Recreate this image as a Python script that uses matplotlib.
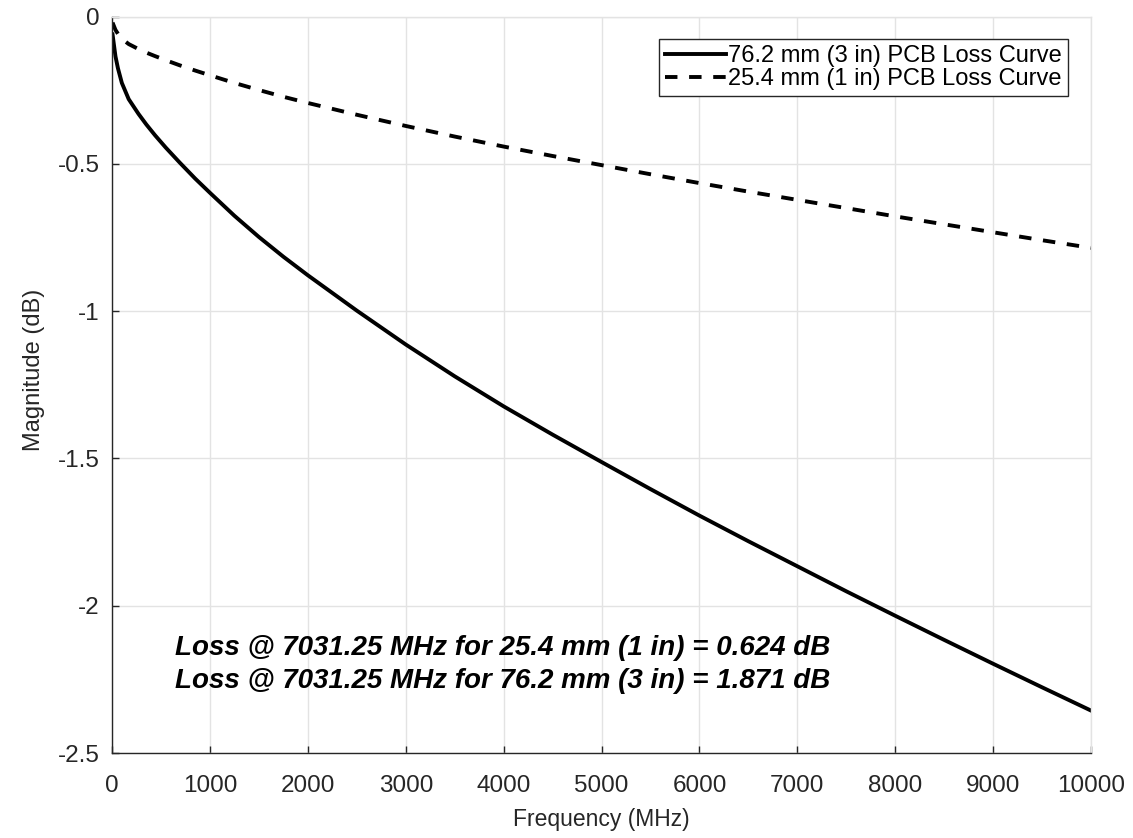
import numpy as np
import matplotlib
matplotlib.use("Agg")
import matplotlib.pyplot as plt

# values
freq_mhz = [5, 35, 60, 100, 170, 270, 350, 440, 550, 690, 850, 1000, 1250, 1500, 1750,
            2000, 2500, 3000, 3500, 4000, 4500, 5000, 5500, 6000, 6500, 7000, 7500,
            8000, 8500, 9000, 9500, 10000]
loss_3in = [-0.06, -0.135, -0.175, -0.225, -0.28, -0.33, -0.366, -0.403, -0.445, -0.495,
            -0.55, -0.598, -0.676, -0.748, -0.815, -0.878, -0.998, -1.113, -1.221,
            -1.323, -1.419, -1.512, -1.604, -1.694, -1.781, -1.866, -1.951, -2.034,
            -2.116, -2.197, -2.277, -2.356]
loss_1in = [-0.02, -0.045, -0.058, -0.075, -0.093, -0.11, -0.122, -0.134, -0.148,
            -0.165, -0.183, -0.199, -0.225, -0.249, -0.272, -0.293, -0.333, -0.371,
            -0.407, -0.441, -0.473, -0.504, -0.535, -0.565, -0.594, -0.622, -0.650,
            -0.678, -0.705, -0.732, -0.759, -0.785]
labels = ["76.2 mm (3 in) PCB Loss Curve", "25.4 mm (1 in) PCB Loss Curve"]
notes = ["Loss @ 7031.25 MHz for 25.4 mm (1 in) = 0.624 dB",
         "Loss @ 7031.25 MHz for 76.2 mm (3 in) = 1.871 dB"]

plt.rcParams["font.family"] = ["Liberation Sans", "DejaVu Sans"]
axis_col = "#262626"

fig = plt.figure(figsize=(11.33, 8.38), dpi=100)
ax = fig.add_axes([0.0989, 0.1014, 0.8641, 0.8787])

ax.plot(freq_mhz, loss_3in, color="black", lw=2.8, label=labels[0],
        solid_joinstyle="round")
ax.plot(freq_mhz, loss_1in, color="black", lw=2.8, linestyle=(0, (3.2, 3.0)),
        label=labels[1])

ax.set_xlim(0, 10000)
ax.set_ylim(-2.5, 0)
ax.set_xticks(np.arange(0, 10001, 1000))
ax.set_yticks([-2.5, -2, -1.5, -1, -0.5, 0])
ax.set_yticklabels(["-2.5", "-2", "-1.5", "-1", "-0.5", "0"])
ax.grid(True, color="#e3e3e3", lw=1)
ax.set_axisbelow(True)
ax.tick_params(direction="in", length=5, width=1, colors=axis_col, labelsize=17.5)
ax.tick_params(axis="x", pad=16)
ax.tick_params(axis="y", pad=9)
for s in ["left", "bottom"]:
    ax.spines[s].set_color(axis_col)
    ax.spines[s].set_linewidth(1)
for s in ["top", "right"]:
    ax.spines[s].set_color("#e3e3e3")
    ax.spines[s].set_linewidth(1)

ax.set_xlabel("Frequency (MHz)", fontsize=16.5, color=axis_col, labelpad=8)
ax.set_ylabel("Magnitude (dB)", fontsize=17, color=axis_col)
ax.yaxis.set_label_coords(-0.069, 0.52)

leg = ax.legend(loc="upper right", bbox_to_anchor=(0.9765, 0.9697), fontsize=17,
                fancybox=False, framealpha=1, edgecolor=axis_col,
                handlelength=2.6, handletextpad=0.1, borderpad=0.25,
                labelspacing=0.05, borderaxespad=0)
leg.get_frame().set_linewidth(1)

for i, t in enumerate(notes):
    ax.text(0.0644, 0.1426 - i * 0.0448, t, transform=ax.transAxes, fontsize=20,
            fontweight="bold", fontstyle="italic", va="center", ha="left")

fig.savefig("out.png", dpi=100)
